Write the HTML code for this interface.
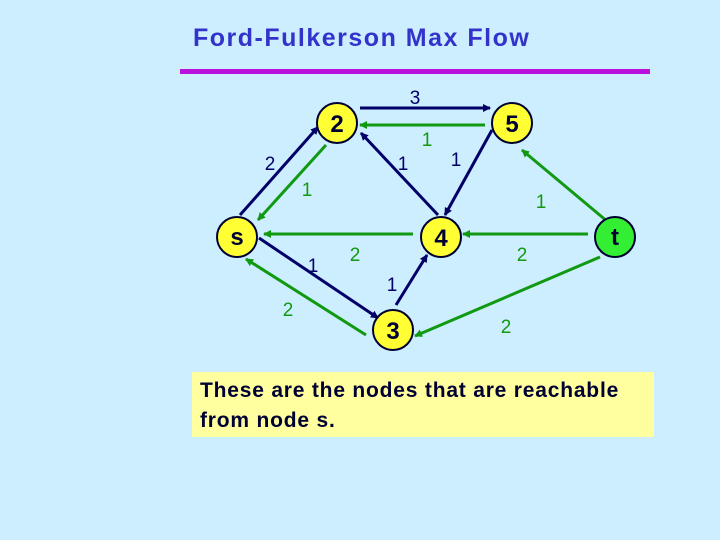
<!DOCTYPE html>
<html><head><meta charset="utf-8"><style>
body{margin:0;width:720px;height:540px;background:#cceeff;overflow:hidden;position:relative;font-family:"Liberation Sans",Arial,sans-serif}
#t{position:absolute;left:193px;top:24px;font-size:25px;font-weight:bold;color:#3333cc;white-space:nowrap;letter-spacing:1.5px}
#box{position:absolute;left:192px;top:372px;width:462px;height:65px;background:#ffffa0}
#box div{position:absolute;left:8px;top:4px;font-size:21px;font-weight:bold;line-height:30px;color:#000033;letter-spacing:0.8px;white-space:nowrap}
</style></head><body>
<div id="t">Ford-Fulkerson Max Flow</div>
<div style="position:absolute;left:180px;top:69px;width:470px;height:5px;background:#bb11dd"></div>
<svg width="720" height="540" style="position:absolute;left:0;top:0" font-family="Liberation Sans,Arial,sans-serif">
<defs>
<marker id="b" markerWidth="8" markerHeight="8" refX="7" refY="4" orient="auto" markerUnits="userSpaceOnUse"><path d="M0,0L8,4L0,8z" fill="#000066"/></marker>
<marker id="g" markerWidth="8" markerHeight="8" refX="7" refY="4" orient="auto" markerUnits="userSpaceOnUse"><path d="M0,0L8,4L0,8z" fill="#119911"/></marker>
</defs>
<g stroke="#000066" stroke-width="3" marker-end="url(#b)">
<line x1="360" y1="108" x2="490" y2="108"/>
<line x1="240" y1="215" x2="318" y2="127"/>
<line x1="438" y1="215" x2="361" y2="133"/>
<line x1="492" y1="130" x2="445" y2="215"/>
<line x1="259" y1="238" x2="378" y2="318"/>
<line x1="396" y1="305" x2="427" y2="255"/>
</g>
<g stroke="#119911" stroke-width="3" marker-end="url(#g)">
<line x1="485" y1="125" x2="360" y2="125"/>
<line x1="326" y1="145" x2="258" y2="220"/>
<line x1="608" y1="222" x2="522" y2="150"/>
<line x1="413" y1="234" x2="264" y2="234"/>
<line x1="588" y1="234" x2="463" y2="234"/>
<line x1="366" y1="335" x2="246" y2="259"/>
<line x1="600" y1="257" x2="415" y2="336"/>
</g>
<g stroke="#000033" stroke-width="2">
<circle cx="337" cy="123" r="20" fill="#ffff33"/>
<circle cx="512" cy="123" r="20" fill="#ffff33"/>
<circle cx="237" cy="237" r="20" fill="#ffff33"/>
<circle cx="441" cy="237" r="20" fill="#ffff33"/>
<circle cx="393" cy="330" r="20" fill="#ffff33"/>
<circle cx="615" cy="237" r="20" fill="#33ee33"/>
</g>
<g font-weight="bold" font-size="24" text-anchor="middle" fill="#000033">
<text x="337" y="132">2</text><text x="512" y="132">5</text><text x="237" y="245">s</text>
<text x="441" y="246">4</text><text x="393" y="339">3</text><text x="615" y="245">t</text>
</g>
<g font-size="19" text-anchor="middle">
<text x="415" y="104" fill="#000066">3</text>
<text x="427" y="146" fill="#119911">1</text>
<text x="270" y="170" fill="#000066">2</text>
<text x="307" y="196" fill="#119911">1</text>
<text x="403" y="170" fill="#000066">1</text>
<text x="456" y="166" fill="#000066">1</text>
<text x="541" y="208" fill="#119911">1</text>
<text x="355" y="261" fill="#119911">2</text>
<text x="522" y="261" fill="#119911">2</text>
<text x="313" y="272" fill="#000066">1</text>
<text x="288" y="316" fill="#119911">2</text>
<text x="392" y="291" fill="#000066">1</text>
<text x="506" y="333" fill="#119911">2</text>
</g>
</svg>
<div id="box"><div>These are the nodes that are reachable<br>from node s.</div></div>
</body></html>
